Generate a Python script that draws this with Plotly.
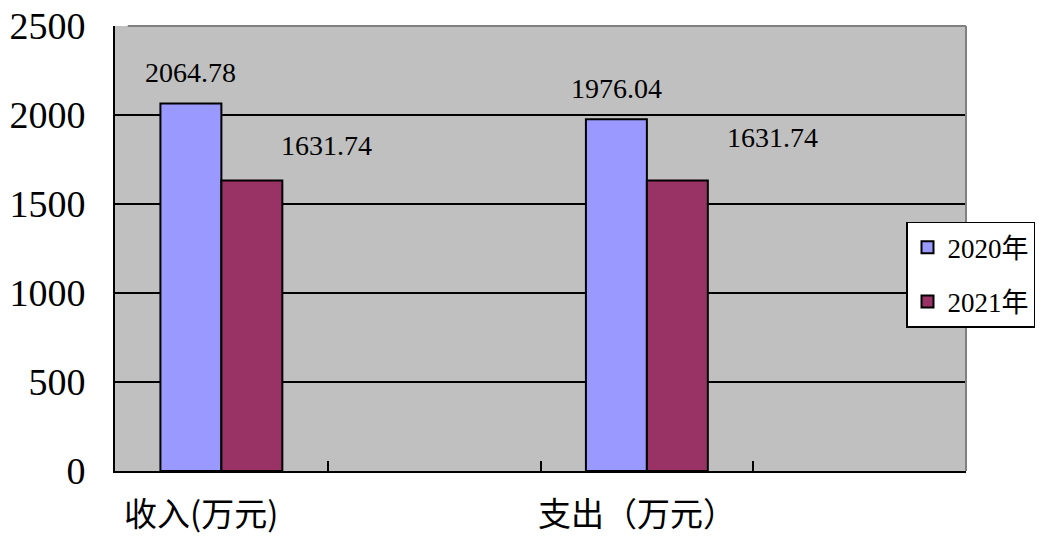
import plotly.graph_objects as go

# Income / expenditure comparison, 2020 vs 2021 (unit: 10k yuan)
categories = ["收入(万元)", "支出（万元）"]
years = ["2020年", "2021年"]
values_2020 = [2064.78, 1976.04]
values_2021 = [1631.74, 1631.74]
y_ticks = [0, 500, 1000, 1500, 2000, 2500]

colors = ["#9999FF", "#993366"]
series = [values_2020, values_2021]

num_font = "Liberation Serif, Noto Sans CJK SC, serif"

# each category occupies a slot with an empty slot after it
slot = 2
xpos = [i * slot for i in range(len(categories))]

bar_w = 0.2865
offsets = [-bar_w, 0]

fig = go.Figure()
for k, (name, vals) in enumerate(zip(years, series)):
    fig.add_trace(go.Bar(
        x=xpos, y=vals, name=name, legendgroup=name,
        width=bar_w, offset=offsets[k],
        marker=dict(color=colors[k], line=dict(color="black", width=2)),
        hoverinfo="skip",
    ))

# value labels: 2020 sits above its bar, 2021 sits above and to the right
annotations = []
for i, x in enumerate(xpos):
    for k, vals in enumerate(series):
        cx = x + offsets[k] + bar_w / 2
        dx = 0 if k == 0 else (75 if i == 0 else 95)
        dy = 31 if k == 0 else (35 if i == 0 else 43)
        annotations.append(dict(
            x=cx, y=vals[i], xref="x", yref="y",
            text=f"{vals[i]:.2f}", showarrow=False,
            xshift=dx, yshift=dy,
            font=dict(family=num_font, size=28, color="black"),
        ))

# category labels under the axis
for i, x in enumerate(xpos):
    annotations.append(dict(
        x=x, y=0, xref="x", yref="paper",
        text=categories[i], showarrow=False,
        xanchor="center", yanchor="middle",
        xshift=-20 if i == 0 else -10, yshift=-41,
        borderpad=0,
        font=dict(family="Noto Sans CJK SC", size=33, color="black"),
    ))

fig.update_layout(
    width=1043, height=537,
    margin=dict(l=115, r=77, t=26, b=66, autoexpand=False),
    paper_bgcolor="white",
    plot_bgcolor="#C0C0C0",
    barmode="overlay",
    annotations=annotations,
    showlegend=True,
    legend=dict(
        x=0.9295, y=0.56, xanchor="left", yanchor="top",
        bgcolor="white", bordercolor="black", borderwidth=1.5,
        font=dict(family=num_font, size=27, color="black"),
        tracegroupgap=16,
        itemwidth=30,
    ),
    xaxis=dict(
        range=[-0.5, 3.5], automargin=False,
        tickvals=xpos, showticklabels=False,
        ticks="", showgrid=False, zeroline=False,
        showline=True, linecolor="black", linewidth=2,
        minor=dict(tickvals=[0.5, 1.5, 2.5, 3.5], ticks="inside",
                   ticklen=10, tickwidth=1.5, tickcolor="black",
                   showgrid=False),
    ),
    yaxis=dict(
        range=[0, 2500], automargin=False,
        tickvals=y_ticks,
        ticks="inside", ticklen=14, tickwidth=1.5, tickcolor="black",
        showgrid=True, gridcolor="black", gridwidth=1.5,
        zeroline=False,
        showline=True, linecolor="black", linewidth=2,
        tickfont=dict(family=num_font, size=38, color="black"),
        ticklabelstandoff=20,
    ),
    shapes=[
        dict(type="line", xref="paper", yref="paper", x0=0.015, x1=1, y0=1, y1=1,
             line=dict(color="#808080", width=2), layer="above"),
        dict(type="line", xref="paper", yref="paper", x0=1, x1=1, y0=0, y1=1,
             line=dict(color="#808080", width=2), layer="above"),
    ],
)

fig.write_html("out.html")
